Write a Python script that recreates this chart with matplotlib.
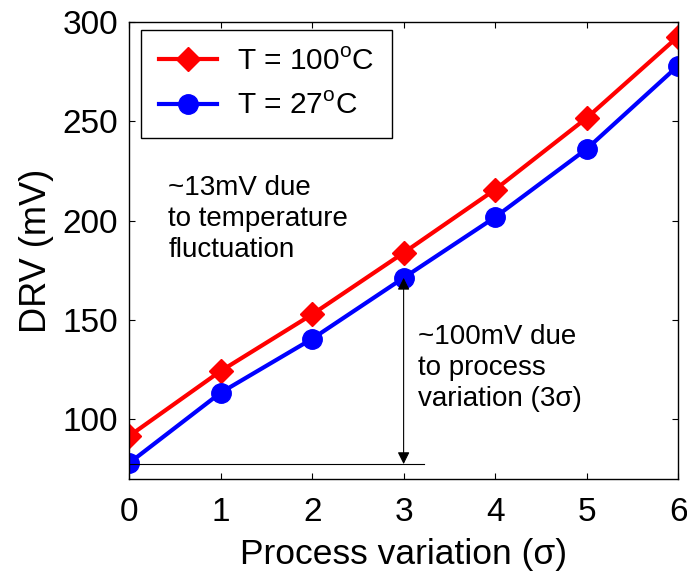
import matplotlib.pyplot as plt
import numpy as np

plt.rcParams['font.family'] = ['Liberation Sans', 'DejaVu Sans']
plt.rcParams['mathtext.fontset'] = 'custom'
plt.rcParams['mathtext.rm'] = 'Liberation Sans'

# data
sigma = [0, 1, 2, 3, 4, 5, 6]
drv_100c = [91.6, 124.3, 152.8, 183.8, 215.6, 251.6, 292.6]
drv_27c = [78.0, 113.4, 140.5, 171.2, 201.7, 236.0, 277.9]
label_100c = "T = 100$^{\\mathrm{o}}$C"
label_27c = "T = 27$^{\\mathrm{o}}$C"

fig = plt.figure(figsize=(6.87, 5.75), dpi=100)
ax = fig.add_axes([0.188, 0.167, 0.799, 0.795])

ax.plot(sigma, drv_100c, color='red', lw=3, marker='D', ms=12.5, label=label_100c)
ax.plot(sigma, drv_27c, color='blue', lw=3, marker='o', ms=14, label=label_27c)

# process-variation annotation
ax.plot([0, 3.22], [77.5, 77.5], color='black', lw=0.8)
ax.annotate("", xy=(3, 171.2), xytext=(3, 77.5),
            arrowprops=dict(arrowstyle='<|-|>', color='black', lw=0.8,
                            mutation_scale=18, shrinkA=0, shrinkB=0))

ax.text(0.43, 201, "~13mV due\nto temperature\nfluctuation",
        fontsize=20, va='center', ha='left', linespacing=1.25)
ax.text(3.16, 126, "~100mV due\nto process\nvariation (3σ)",
        fontsize=20, va='center', ha='left', linespacing=1.25)

ax.set_xlim(0, 6)
ax.set_ylim(70, 300)
ax.set_xticks(sigma)
ax.set_yticks([100, 150, 200, 250, 300])
ax.tick_params(direction='in', length=4, width=0.8, labelsize=24,
               top=True, right=True, pad=8)
ax.tick_params(axis='x', pad=13)
for s in ax.spines.values():
    s.set_linewidth(1.0)

ax.set_xlabel("Process variation (σ)", fontsize=25.5, labelpad=7)
ax.set_ylabel("DRV (mV)", fontsize=26, labelpad=6)

leg = ax.legend(loc='upper left', bbox_to_anchor=(0.021, 0.983),
                borderaxespad=0, fontsize=21.5, handlelength=1.95,
                handletextpad=0.67, borderpad=0.6, labelspacing=0.55,
                fancybox=False, framealpha=1, edgecolor='black')
leg.get_frame().set_linewidth(1.0)

fig.savefig("out.png", dpi=100)
